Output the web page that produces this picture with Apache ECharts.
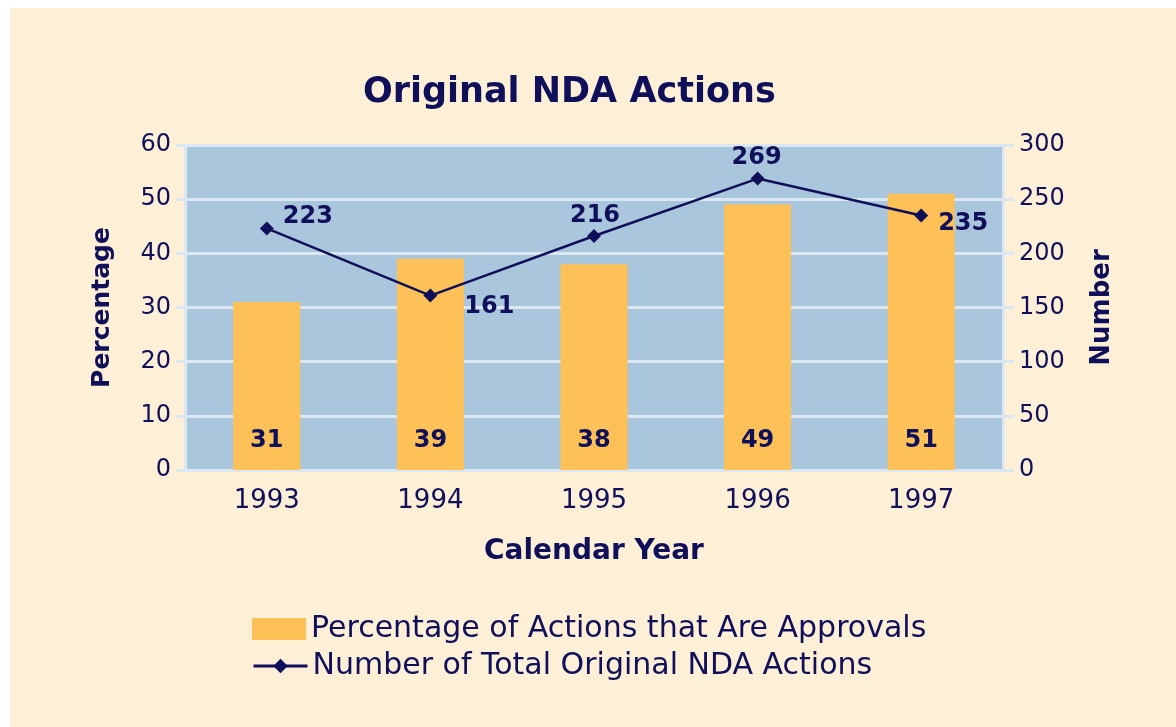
<!DOCTYPE html>
<html>
<head>
<meta charset="utf-8">
<script src="https://cdn.jsdelivr.net/npm/echarts@6/dist/echarts.min.js"></script>
<style>
	html, body { margin: 0; padding: 0; background: #ffffff; }
	#chart { position: absolute; left: 10px; top: 8px; width: 1166px; height: 719px; }
</style>
</head>
<body>
<div id="chart"></div>
<script>
// 数据
const years = ["1993", "1994", "1995", "1996", "1997"];
const approvalPct = [31, 39, 38, 49, 51];
const totalActions = [223, 161, 216, 269, 235];
// 折线标签偏移 (相对数据点)
const lineLabelOffsets = [[41, -12], [59, 11], [1, -20], [-1, -21], [42, 8]];

const navy = "#10105a";
const light = "#dbe8f3";
const font = "DejaVu Sans";

const barName = "Percentage of Actions that Are Approvals";
const lineName = "Number of Total Original NDA Actions";

const myChart = echarts.init(document.getElementById("chart"));

const option = {
	backgroundColor: "#feefd7",
	textStyle: { fontFamily: font, color: navy },
	title: {
		text: "Original NDA Actions",
		left: 348,
		top: 62,
		textStyle: { fontFamily: font, fontSize: 35, fontWeight: "bold", color: navy }
	},
	legend: [
		{
			orient: "vertical",
			left: 237,
			top: 601,
			itemWidth: 54,
			itemHeight: 22,
			data: [{ name: barName, icon: "rect" }],
			textStyle: { fontFamily: font, fontSize: 30, color: navy, lineHeight: 30 }
		},
		{
			orient: "vertical",
			left: 237,
			top: 638,
			itemWidth: 54,
			itemHeight: 18,
			lineStyle: { width: 3 },
			data: [lineName],
			textStyle: { fontFamily: font, fontSize: 30, color: navy, lineHeight: 30 }
		}
	],
	grid: {
		show: true,
		backgroundColor: "#aac6dd",
		borderWidth: 0,
		left: 175,
		top: 137,
		width: 818,
		height: 325
	},
	xAxis: {
		type: "category",
		data: years,
		name: "Calendar Year",
		nameLocation: "middle",
		nameGap: 68,
		nameTextStyle: { fontFamily: font, fontSize: 28, fontWeight: "bold", color: navy },
		axisLine: { lineStyle: { color: light, width: 3 } },
		axisTick: { length: 11, lineStyle: { color: light, width: 3 } },
		axisLabel: { fontFamily: font, fontSize: 26, color: navy, margin: 18 }
	},
	yAxis: [
		{
			type: "value",
			min: 0,
			max: 60,
			interval: 10,
			name: "Percentage",
			nameLocation: "middle",
			nameRotate: 90,
			nameGap: 70,
			nameTextStyle: { fontFamily: font, fontSize: 25, fontWeight: "bold", color: navy },
			axisLine: { show: true, lineStyle: { color: light, width: 3 } },
			axisTick: { show: true, length: 9, lineStyle: { color: light, width: 3 } },
			splitLine: { lineStyle: { color: light, width: 3 } },
			axisLabel: { fontFamily: font, fontSize: 24, color: navy, margin: 14 }
		},
		{
			type: "value",
			min: 0,
			max: 300,
			interval: 50,
			position: "right",
			name: "Number",
			nameLocation: "middle",
			nameRotate: 90,
			nameGap: 86,
			nameTextStyle: { fontFamily: font, fontSize: 26, fontWeight: "bold", color: navy },
			axisLine: { show: true, lineStyle: { color: light, width: 3 } },
			axisTick: { show: true, length: 11, lineStyle: { color: light, width: 3 } },
			splitLine: { show: false },
			axisLabel: { fontFamily: font, fontSize: 24, color: navy, margin: 16 }
		}
	],
	series: [
		{
			name: barName,
			type: "bar",
			yAxisIndex: 0,
			barWidth: "41%",
			itemStyle: { color: "#fec157" },
			label: {
				show: true,
				position: "insideBottom",
				distance: 17,
				fontFamily: font,
				fontSize: 24,
				fontWeight: "bold",
				color: navy
			},
			data: approvalPct
		},
		{
			name: lineName,
			type: "line",
			yAxisIndex: 1,
			symbol: "diamond",
			symbolSize: 14,
			itemStyle: { color: navy },
			lineStyle: { color: navy, width: 2.5 },
			label: {
				show: true,
				position: "inside",
				fontFamily: font,
				fontSize: 24,
				fontWeight: "bold",
				color: navy
			},
			data: totalActions.map((v, i) => ({
				value: v,
				label: { offset: lineLabelOffsets[i] }
			}))
		}
	]
};

myChart.setOption(option);
</script>
</body>
</html>
